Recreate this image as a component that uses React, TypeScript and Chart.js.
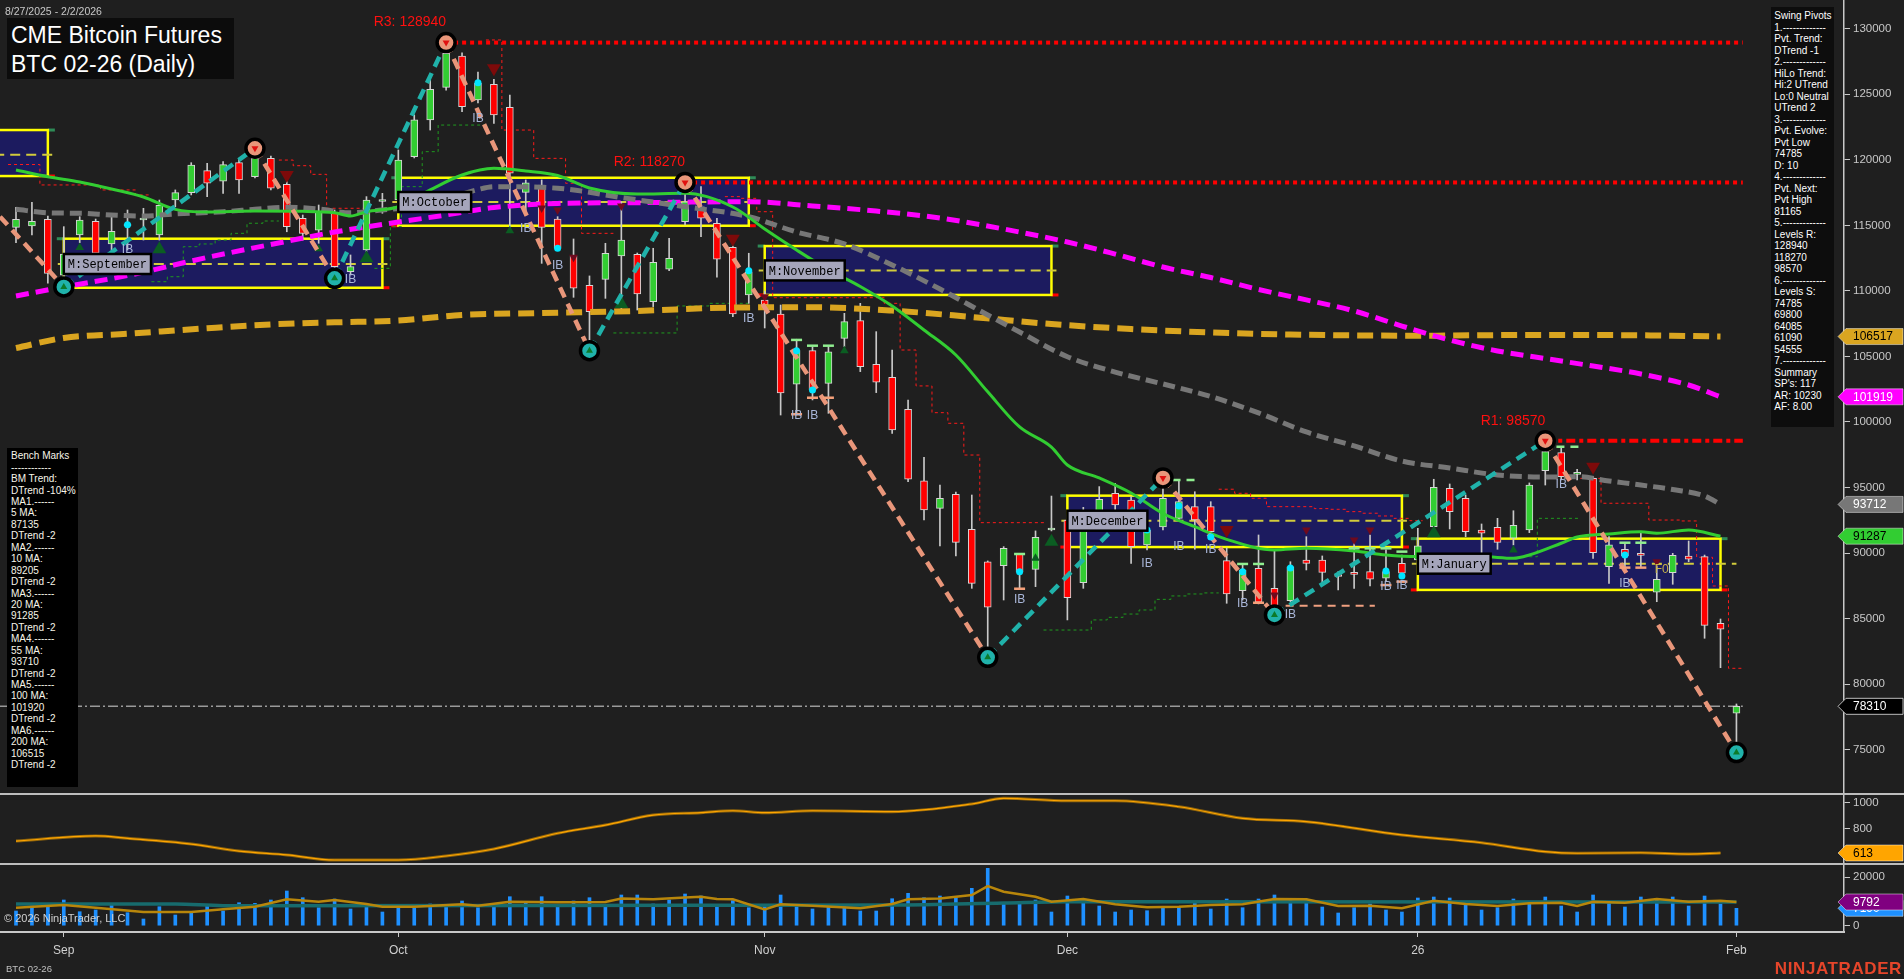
import React, { useEffect, useRef } from 'react';
import { Chart, registerables } from 'chart.js';

Chart.register(...registerables);
Chart.defaults.font.family = 'Arial, "Liberation Sans", sans-serif';

// ---------------- DATA ----------------
const opens = [
  114850, 114950, 115460, 111200, 114260, 115310, 113580, 114950, 115410, 114260,
  116930, 117490, 119170, 118360, 119780, 118710, 120110, 118130, 115540, 114640,
  115920, 111460, 113120, 116820, 116930, 120240, 123040, 125530, 127920, 124560,
  125760, 124000, 117520, 118080, 115480, 112680, 110430, 110880, 112660, 112790,
  109180, 111650, 115280, 116420, 115160, 113330, 109690, 109300, 108240, 102880,
  105440, 102950, 106380, 107730, 104400, 103410, 100970, 95520, 93410, 94490,
  91810, 89340, 89040, 89930, 88760, 91760, 92520, 87740, 93040, 94560,
  94050, 90620, 91990, 92650, 93540, 93540, 89420, 87130, 88840, 87310,
  86370, 89470, 89470, 88290, 88500, 88580, 88080, 89220, 89470, 92010,
  94940, 94180, 91760, 91970, 91130, 91760, 96290, 97660, 96000, 95710,
  88960, 90290, 89890, 87010, 88500, 89780, 89730, 84640, 77780,
];
const highs = [
  116380, 116760, 115710, 114900, 115660, 115480, 115660, 116170, 116300, 116930,
  117700, 119780, 119730, 119860, 120110, 120880, 120290, 118460, 115790, 116550,
  116170, 112740, 117190, 117440, 120750, 123420, 126090, 128940, 128150, 126700,
  126140, 124940, 118460, 118460, 115660, 113960, 111140, 113630, 116800, 112890,
  113250, 114010, 118270, 117950, 115540, 113420, 112870, 109990, 108920, 106310,
  105740, 105800, 108290, 109050, 106890, 105490, 101680, 97310, 95190, 94660,
  94430, 89400, 90490, 89930, 91690, 94350, 92900, 93490, 95070, 95320,
  94300, 92140, 95420, 95580, 94680, 93920, 90390, 89170, 91380, 90240,
  89340, 91250, 89780, 88580, 91000, 91380, 90240, 89850, 91890, 95630,
  95270, 94430, 92220, 92650, 93230, 95350, 98570, 98000, 96390, 95830,
  91250, 90790, 91510, 89220, 89980, 90920, 89850, 84970, 78490,
];
const lows = [
  113680, 114260, 110580, 110300, 113680, 112660, 113120, 113120, 113880, 113880,
  116420, 117320, 117190, 117440, 117440, 118610, 117700, 114510, 113880, 113630,
  110830, 111210, 113000, 115920, 116780, 120140, 122270, 125320, 123670, 124330,
  122780, 114700, 115790, 112100, 113120, 109510, 105800, 109430, 108540, 108540,
  108800, 111540, 115030, 114130, 111040, 108030, 109050, 107170, 100530, 100530,
  101680, 100660, 105740, 103840, 102240, 99130, 95450, 92520, 90540, 89780,
  87310, 82380, 86420, 87240, 87440, 91690, 84900, 87310, 92900, 93290,
  89220, 90240, 91760, 92520, 90290, 91380, 86170, 86420, 86120, 85530,
  86290, 88710, 87640, 87190, 87310, 87490, 87900, 88180, 89090, 91910,
  91840, 91250, 89980, 90290, 90620, 91560, 95190, 95580, 95580, 89600,
  87690, 88960, 88920, 86290, 87620, 89340, 83500, 81260, 74785,
];
const closes = [
  115460, 115310, 111340, 112800, 115410, 112870, 114550, 115100, 115480, 116530,
  117490, 119600, 118210, 119630, 118460, 120110, 117830, 114900, 114390, 116040,
  111850, 111850, 116930, 116900, 119980, 123040, 125380, 128120, 124050, 125860,
  123420, 118970, 118250, 114850, 113250, 110200, 108410, 112870, 113880, 109760,
  112180, 112490, 116800, 115540, 112410, 108240, 111460, 108920, 102220, 105440,
  102440, 105360, 107650, 104220, 103030, 99390, 95630, 93290, 94180, 90820,
  87690, 85870, 90360, 88540, 91200, 91900, 86600, 93040, 94100, 93670,
  90490, 91760, 94180, 93920, 92520, 91630, 86880, 88710, 86250, 85910,
  88960, 89220, 88530, 88210, 88380, 88000, 88580, 88460, 90560, 95020,
  93160, 91630, 91510, 90820, 92120, 95190, 97740, 95830, 96030, 90030,
  90620, 89780, 89820, 88000, 89830, 89530, 84490, 84190, 78310,
];
const volumes = [
  6074, 8140, 7603, 10620, 5785, 6488, 8554, 5372, 2769, 7851,
  4421, 5372, 8140, 6074, 9504, 9256, 10620, 14339, 11570, 7438,
  11033, 6900, 8843, 5661, 7851, 7438, 8967, 8140, 10207, 7438,
  8554, 11983, 9793, 11983, 8140, 10207, 11570, 8554, 12686, 12686,
  8967, 10620, 13099, 12273, 8140, 10331, 7438, 8554, 12686, 8554,
  6901, 8554, 8554, 6074, 6074, 11157, 13388, 11570, 12273, 11570,
  15455, 23719, 9669, 8967, 10620, 5661, 12273, 11157, 8140, 5661,
  6488, 6198, 7727, 7603, 9793, 6901, 11033, 7438, 11033, 12686,
  11033, 11033, 7727, 5248, 7438, 8967, 6488, 5661, 11446, 11860,
  11446, 8554, 6488, 7438, 11033, 9380, 11860, 8140, 5661, 12686,
  9793, 7727, 11860, 11033, 11860, 8140, 12273, 8967, 7190,
];

const monthTickIdx = [3, 24, 47, 66, 88, 108];
const monthTickLabels = ['Sep', 'Oct', 'Nov', 'Dec', '26', 'Feb'];
const priceTicks = [75000, 80000, 85000, 90000, 95000, 100000, 105000, 110000, 115000, 120000, 125000, 130000];
const oscTicks = [800, 1000];
const volTicks = [0, 20000];

const ma20Idx = [0, 2, 4, 6, 8, 10, 12, 15, 18, 20, 21, 22, 24, 26, 28, 30, 32, 34, 36, 39, 42, 45, 47, 49, 51, 53, 55, 57, 59, 61, 63, 65, 66, 68, 70, 72, 74, 76, 79, 81, 84, 86, 88, 92, 94, 95, 97, 98, 100, 102, 103, 105, 107];
const ma20Val = [119220, 118710, 118310, 117770, 117160, 116220, 116020, 116090, 116070, 115960, 115710, 116040, 116420, 117700, 118840, 119350, 119150, 118800, 117850, 117390, 117440, 116400, 114720, 113120, 111620, 110340, 108850, 107020, 105110, 102300, 99620, 98090, 96720, 95730, 94580, 93020, 92010, 91050, 90240, 90370, 90160, 89850, 89730, 89730, 89600, 89850, 90750, 91230, 91460, 91630, 91510, 91760, 91287];
const ma55Idx = [0, 2, 4, 6, 8, 10, 13, 15, 17, 19, 21, 23, 25, 27, 29, 30, 34, 38, 42, 46, 49, 52, 55, 58, 61, 63, 66, 69, 72, 75, 78, 81, 84, 87, 90, 93, 96, 98, 100, 102, 104, 106, 107];
const ma55Val = [116220, 115960, 115920, 115790, 115710, 115870, 116040, 116220, 116380, 116250, 115960, 116170, 116420, 117010, 117730, 117950, 117830, 117120, 116420, 115660, 114490, 113580, 111980, 110140, 108160, 106860, 104980, 103810, 102900, 101940, 100690, 99240, 98170, 97020, 96490, 95960, 95800, 95830, 95500, 95190, 94850, 94350, 93712];
const ma100Idx = [0, 3, 7, 12, 16, 20, 24, 27, 30, 34, 39, 43, 46, 50, 54, 58, 62, 66, 69, 72, 75, 78, 81, 84, 87, 90, 93, 96, 99, 102, 105, 107];
const ma100Val = [109610, 110300, 111170, 112550, 113540, 114490, 115250, 115790, 116360, 116670, 116730, 116780, 116800, 116480, 116090, 115560, 114720, 113730, 112810, 111820, 111020, 110110, 109310, 108470, 107320, 106250, 105420, 104840, 104270, 103660, 102820, 101919];
const ma200Idx = [0, 3, 7, 12, 16, 20, 24, 28, 33, 39, 45, 50, 55, 60, 65, 70, 75, 80, 88, 95, 102, 107];
const ma200Val = [105640, 106410, 106730, 107150, 107440, 107600, 107740, 108160, 108310, 108470, 108730, 108750, 108500, 108010, 107470, 107090, 106830, 106670, 106580, 106640, 106610, 106517];

const pivotIdx = [-1, 3, 15, 20, 27, 36, 42, 61, 72, 79, 96, 108];
const pivotVal = [115660, 110300, 120880, 110960, 128940, 105440, 118270, 82050, 95730, 85280, 98570, 74785];

const resIdx = [27, 42, 96];
const resVal = [128940, 118270, 98570];
const resNames = ['R3', 'R2', 'R1'];

const boxStart = [-3, 3, 24, 47, 66, 88];
const boxEnd = [2, 23, 46, 65, 87, 107];
const boxTop = [122270, 113980, 118630, 113420, 94380, 91100];
const boxBottom = [118760, 110240, 114970, 109690, 90460, 87190];
const boxMid = [120390, 112050, 116780, 111560, 92470, 89190];
const boxLabels = ['', 'M:September', 'M:October', 'M:November', 'M:December', 'M:January'];

const bigUpIdx = [9, 22, 38, 65, 89];
const bigUpVal = [113170, 112490, 109000, 90870, 91510];
const smallUpIdx = [4, 19, 31, 52, 64, 94];
const smallUpVal = [113300, 113220, 114590, 105440, 89600, 90240];
const bigDnIdx = [17, 30, 45, 76, 99];
const bigDnVal = [118840, 126980, 113980, 91760, 96590];
const smallDnIdx = [33, 34, 35, 38, 47, 79, 81, 84, 85, 103];
const smallDnVal = [116320, 116170, 112560, 116480, 109560, 86800, 91760, 91000, 91760, 89340];

const cyanIdx = [7, 29, 34, 46, 49, 50, 63, 71, 73, 75, 77, 80, 86, 87, 101];
const cyanVal = [115050, 125880, 113250, 111540, 105440, 102440, 88580, 91760, 93590, 91230, 88580, 88860, 88630, 88250, 89850];

const ibIdx = [7, 21, 29, 32, 34, 46, 49, 50, 63, 71, 73, 75, 77, 80, 86, 87, 97, 101];
const ibVal = [113170, 110880, 123170, 114770, 111900, 107910, 100460, 100460, 86420, 89170, 90490, 90240, 86170, 85280, 87440, 87490, 95190, 87640];
const foIdx = [103];
const foVal = [88710];

const ibTopIdx = [49, 50, 51, 63, 77, 78, 84, 85, 86, 87, 101, 102];
const ibTopVal = [106260, 105820, 105820, 89930, 89170, 89170, 90360, 90360, 90360, 90110, 90790, 90790];
const ibBotIdx = [49, 50, 51, 63, 78, 86, 87, 101, 102];
const ibBotVal = [100590, 101850, 101850, 87280, 86210, 87560, 87820, 88890, 88890];

const stopRed = [
  [[-0.5, 119640], [1.5, 118080], [5.3, 117700], [7.5, 117320], [8.4, 117320]],
  [[16.5, 119980], [17.4, 119550], [18.5, 118890], [19.5, 116300], [21.8, 116300]],
  [[29.5, 129140], [30.5, 122270], [32.5, 120110], [34.5, 118210], [35.5, 114390], [37.5, 114390]],
  [[44.5, 117190], [45.5, 117060], [46.5, 116040], [47.5, 109480], [54.5, 109050], [55.5, 105490], [56.5, 102750], [57.5, 100710], [58.5, 99900], [59.5, 97480], [60.5, 92320], [64.7, 92320]],
  [[75.5, 94870], [76.5, 94560], [77.5, 94180], [78.5, 93540], [81.5, 93390], [82.5, 93340], [83.5, 93160], [84.5, 93040], [85.5, 92830], [86.5, 92650], [87.5, 92470], [88.3, 92470]],
  [[98.2, 95700], [99.5, 93800], [102.5, 92520], [104.5, 92450], [105.5, 89680], [106.5, 87490], [107.5, 81210], [108.5, 81210]],
];
const stopGreen = [
  [[8.5, 110700], [9.5, 111080], [10.5, 113370], [11.5, 113580], [12.5, 113880], [13.5, 114390], [14.5, 115160], [15.5, 115330], [16.5, 115330]],
  [[22.5, 111720], [23.5, 114900], [24.2, 117950], [25.5, 120620], [26.5, 122650], [29.5, 122650]],
  [[37.5, 106790], [41.5, 108850], [43.5, 109050], [46.05, 109050]],
  [[64.5, 84130], [67.5, 84900], [68.5, 85100], [69.5, 85350], [70.5, 85660], [71.5, 86470], [72.5, 86730], [73.5, 86880], [74.5, 86960], [75.5, 86960]],
  [[95.0, 89720], [95.5, 92650], [98.2, 92650]],
];
const salmonDash = [[79.7, 85990], [85.3, 85990]];
const lightGreenDashes = [
  [[72.6, 95575], [74.3, 95575]],
  [[96.7, 98117], [98.3, 98117]],
];

const oscIdx = [0, 5, 7, 11, 14, 17, 20, 24, 27, 30, 34, 37, 40, 43, 45, 47, 50, 55, 60, 62, 66, 69, 73, 77, 81, 87, 92, 96, 98, 102, 105, 107];
const oscVal = [705, 744, 726, 682, 628, 598, 559, 559, 590, 644, 765, 828, 905, 923, 938, 923, 938, 931, 990, 1034, 1015, 1015, 969, 880, 854, 752, 692, 623, 611, 615, 605, 613];

const vmaIdx = [0, 3, 5, 8, 11, 13, 15, 17, 19, 20, 22, 23, 25, 28, 29, 31, 34, 37, 38, 40, 42, 43, 44, 45, 47, 48, 50, 53, 55, 56, 58, 60, 61, 62, 64, 65, 67, 69, 71, 73, 75, 77, 79, 81, 83, 85, 87, 89, 91, 93, 95, 97, 98, 99, 101, 103, 105, 107, 108];
const vmaVal = [7438, 8554, 7438, 5661, 5661, 6763, 7851, 10896, 9917, 10620, 8967, 7851, 7851, 8843, 8280, 9917, 9669, 9793, 11240, 10896, 11651, 11983, 11033, 10896, 6763, 8843, 8280, 7190, 8967, 10896, 11240, 12686, 16386, 14063, 11983, 9917, 11033, 8843, 7603, 7851, 8554, 8843, 11033, 10896, 8140, 8280, 7190, 10331, 8967, 8140, 9256, 9516, 8140, 9917, 9516, 11033, 9917, 10331, 9792];
const vlongIdx = [0, 10, 13, 42, 55, 62, 66, 108];
const vlongVal = [8967, 8967, 8280, 8400, 8554, 9400, 9917, 9800];

const pivotPanelLines = ['Swing Pivots', '1.-------------', 'Pvt. Trend:', 'DTrend -1', '2.-------------', 'HiLo Trend:', 'Hi:2 UTrend', 'Lo:0 Neutral', 'UTrend 2', '3.-------------', 'Pvt. Evolve:', 'Pvt Low', '74785', 'D: 10', '4.-------------', 'Pvt. Next:', 'Pvt High', '81165', '5.-------------', 'Levels R:', '128940', '118270', '98570', '6.-------------', 'Levels S:', '74785', '69800', '64085', '61090', '54555', '7.-------------', 'Summary', "SP's: 117", 'AR: 10230', 'AF: 8.00'];
const benchLines = ['Bench Marks', '------------', 'BM Trend:', 'DTrend -104%', 'MA1.------', '5 MA:', '87135', 'DTrend -2', 'MA2.------', '10 MA:', '89205', 'DTrend -2', 'MA3.------', '20 MA:', '91285', 'DTrend -2', 'MA4.------', '55 MA:', '93710', 'DTrend -2', 'MA5.------', '100 MA:', '101920', 'DTrend -2', 'MA6.------', '200 MA:', '106515', 'DTrend -2'];

// ---------------- CONSTANTS / HELPERS ----------------
const BG = '#1f1f1f';
const AXIS = '#c8c8c8';
const X_MIN = -1.0044;
const X_MAX = 114.752;
const LAST_X = 108.4;
const PRICE_MIN = 71622;
const PRICE_MAX = 132189;
const TEAL = '#20b2aa';
const SALMON = '#e9967a';

const pts = (idx: number[], val: number[]) => idx.map((x, k) => ({ x, y: val[k] }));
const pairPts = (arr: number[][]) => arr.map(([x, y]) => ({ x, y }));

function drawTag(ctx: any, y: number, fill: string, textColor: string, text: string, stroke?: string) {
  const tip = 1838, left = 1846, right = 1903, h = 16;
  ctx.save();
  ctx.beginPath();
  ctx.moveTo(tip, y);
  ctx.lineTo(left, y - h / 2);
  ctx.lineTo(right, y - h / 2);
  ctx.lineTo(right, y + h / 2);
  ctx.lineTo(left, y + h / 2);
  ctx.closePath();
  ctx.fillStyle = fill;
  ctx.fill();
  ctx.lineWidth = 1;
  ctx.strokeStyle = stroke || 'rgba(255,255,255,0.45)';
  ctx.stroke();
  ctx.fillStyle = textColor;
  ctx.font = '12px Arial, "Liberation Sans", sans-serif';
  ctx.textAlign = 'left';
  ctx.textBaseline = 'middle';
  ctx.fillText(text, 1853, y + 0.5);
  ctx.restore();
}

const yAxis = (min: number, max: number, ticks: number[]) => ({
  type: 'linear',
  position: 'right',
  min,
  max,
  afterBuildTicks: (s: any) => {
    s.ticks = ticks.map((v) => ({ value: v }));
  },
  afterFit: (s: any) => {
    s.width = 60;
    s.paddingTop = 0;
    s.paddingBottom = 0;
  },
  ticks: { color: AXIS, font: { size: 11.5 }, padding: 3, callback: (v: any) => String(v) },
  grid: { drawOnChartArea: false, drawTicks: true, tickLength: 6, color: AXIS, offset: false },
  border: { display: true, color: AXIS, width: 1.5 },
});

const hiddenX = { type: 'linear', min: X_MIN, max: X_MAX, offset: false, display: false, grid: { offset: false, display: false } };

const baseOptions = {
  responsive: false,
  animation: false,
  events: [],
  layout: { padding: 0, autoPadding: false },
  plugins: { legend: { display: false }, tooltip: { enabled: false }, title: { display: false } },
};

const lineDs = (data: any[], color: string, width: number, dash: number[], order: number, extra: any = {}) => ({
  type: 'line',
  data,
  borderColor: color,
  borderWidth: width,
  borderDash: dash,
  pointRadius: 0,
  fill: false,
  order,
  ...extra,
});

const scatterDs = (data: any[], opts: any, order: number) => ({
  type: 'scatter',
  data,
  pointBorderWidth: 0,
  order,
  ...opts,
});

// ---------------- PLUGINS ----------------
const priceOverlay = {
  id: 'priceOverlay',
  beforeDatasetsDraw(chart: any) {
    const { ctx, chartArea: ca } = chart;
    const xs = chart.scales.x;
    const ys = chart.scales.y;
    ctx.save();
    ctx.beginPath();
    ctx.rect(ca.left, ca.top, ca.right - ca.left, ca.bottom - ca.top);
    ctx.clip();
    for (let k = 0; k < boxStart.length; k++) {
      const x0 = xs.getPixelForValue(boxStart[k]);
      const x1 = xs.getPixelForValue(boxEnd[k]);
      const y0 = ys.getPixelForValue(boxTop[k]);
      const y1 = ys.getPixelForValue(boxBottom[k]);
      const ym = ys.getPixelForValue(boxMid[k]);
      ctx.fillStyle = '#1c1b5f';
      ctx.fillRect(x0, y0, x1 - x0, y1 - y0);
      ctx.fillStyle = '#2e8b57';
      ctx.fillRect(x0 - 7, y0 - 1.5, 7, 3);
      ctx.fillRect(x1, y0 - 1.5, 7, 3);
      ctx.fillStyle = '#ff0000';
      ctx.fillRect(x0 - 7, y1 - 1.5, 7, 3);
      ctx.fillRect(x1, y1 - 1.5, 7, 3);
      ctx.strokeStyle = '#ffff00';
      ctx.lineWidth = 2.5;
      ctx.strokeRect(x0, y0, x1 - x0, y1 - y0);
      const xe = k === boxStart.length - 1 ? xs.getPixelForValue(108) : x1 + 5;
      ctx.setLineDash([10, 6]);
      ctx.strokeStyle = '#d2cc3c';
      ctx.lineWidth = 2;
      ctx.beginPath();
      ctx.moveTo(x0 - 6, ym);
      ctx.lineTo(xe, ym);
      ctx.stroke();
      ctx.setLineDash([]);
    }
    ctx.restore();
  },
  afterDatasetsDraw(chart: any) {
    const { ctx, chartArea: ca } = chart;
    const xs = chart.scales.x;
    const ys = chart.scales.y;
    ctx.save();
    ctx.beginPath();
    ctx.rect(ca.left, ca.top, ca.right - ca.left, ca.bottom - ca.top);
    ctx.clip();
    ctx.font = '12px "Liberation Mono", "DejaVu Sans Mono", monospace';
    ctx.textBaseline = 'middle';
    ctx.textAlign = 'left';
    for (let k = 0; k < boxStart.length; k++) {
      if (!boxLabels[k]) continue;
      const x0 = xs.getPixelForValue(boxStart[k]);
      const ym = ys.getPixelForValue(boxMid[k]);
      const w = ctx.measureText(boxLabels[k]).width + 8;
      ctx.fillStyle = '#a5a5bb';
      ctx.fillRect(x0, ym - 10, w, 20);
      ctx.lineWidth = 2.5;
      ctx.strokeStyle = '#000000';
      ctx.strokeRect(x0, ym - 10, w, 20);
      ctx.fillStyle = '#000000';
      ctx.fillText(boxLabels[k], x0 + 4, ym + 1);
    }
    ctx.font = '14px "Liberation Sans Narrow", Arial, sans-serif';
    ctx.fillStyle = '#ff1010';
    ctx.textAlign = 'right';
    for (let k = 0; k < resIdx.length; k++) {
      const xp = xs.getPixelForValue(resIdx[k]);
      const yp = ys.getPixelForValue(resVal[k]);
      ctx.fillText(resNames[k] + ': ' + resVal[k], xp, yp - 20);
    }
    ctx.font = '12px Arial, sans-serif';
    ctx.textAlign = 'center';
    ctx.fillStyle = '#a9b6d8';
    for (let k = 0; k < ibIdx.length; k++) {
      ctx.fillText('IB', xs.getPixelForValue(ibIdx[k]), ys.getPixelForValue(ibVal[k]));
    }
    ctx.fillStyle = '#c9b44a';
    for (let k = 0; k < foIdx.length; k++) {
      ctx.fillText('F0', xs.getPixelForValue(foIdx[k]) + 5, ys.getPixelForValue(foVal[k]));
    }
    ctx.restore();
  },
  afterDraw(chart: any) {
    const { ctx } = chart;
    const ys = chart.scales.y;
    drawTag(ctx, ys.getPixelForValue(ma200Val[ma200Val.length - 1]), '#daa520', '#000000', String(ma200Val[ma200Val.length - 1]));
    drawTag(ctx, ys.getPixelForValue(ma100Val[ma100Val.length - 1]), '#ff00ff', '#ffffff', String(ma100Val[ma100Val.length - 1]));
    drawTag(ctx, ys.getPixelForValue(ma55Val[ma55Val.length - 1]), '#777777', '#ffffff', String(ma55Val[ma55Val.length - 1]));
    drawTag(ctx, ys.getPixelForValue(ma20Val[ma20Val.length - 1]), '#32cd32', '#000000', String(ma20Val[ma20Val.length - 1]));
    const lc = closes[closes.length - 1];
    drawTag(ctx, ys.getPixelForValue(lc), '#000000', '#ffffff', String(lc), '#bbbbbb');
  },
};

const oscOverlay = {
  id: 'oscOverlay',
  afterDraw(chart: any) {
    const ys = chart.scales.y;
    const v = oscVal[oscVal.length - 1];
    drawTag(chart.ctx, ys.getPixelForValue(v), '#ffa500', '#000000', String(v));
  },
};

const volOverlay = {
  id: 'volOverlay',
  afterDraw(chart: any) {
    const ys = chart.scales.y;
    const lv = volumes[volumes.length - 1];
    drawTag(chart.ctx, ys.getPixelForValue(lv), '#1e90ff', '#ffffff', String(lv));
    const mv = vmaVal[vmaVal.length - 1];
    drawTag(chart.ctx, ys.getPixelForValue(mv), '#800080', '#ffffff', String(mv));
  },
};

// ---------------- CONFIGS ----------------
function priceConfig(): any {
  const idxAll = opens.map((_, i) => i);
  const bodyColors = closes.map((c, i) => (c >= opens[i] ? '#32cd32' : '#ff0000'));
  const isHigh = pivotVal.map((v, k) => k > 0 && v > pivotVal[k - 1]);
  const pivotColors = isHigh.map((h) => (h ? SALMON : TEAL));
  const innerColors = isHigh.map((h) => (h ? '#e01010' : '#0c7a2a'));
  const innerRot = isHigh.map((h) => (h ? 180 : 0));
  const lastClose = closes[closes.length - 1];
  const datasets: any[] = [];
  stopRed.forEach((seg) => datasets.push(lineDs(pairPts(seg), '#ff1a1a', 1, [3, 3], 30, { stepped: 'before' })));
  stopGreen.forEach((seg) => datasets.push(lineDs(pairPts(seg), '#1f9a1f', 1, [3, 3], 30, { stepped: 'before' })));
  datasets.push(lineDs([{ x: X_MIN, y: lastClose }, { x: LAST_X, y: lastClose }], '#9a9a9a', 1.5, [10, 3, 2, 3], 29));
  datasets.push({
    type: 'bar',
    data: idxAll.map((i) => ({ x: i, y: [lows[i], highs[i]] })),
    backgroundColor: '#c8c8c8',
    barThickness: 1,
    grouped: false,
    order: 20,
  });
  datasets.push({
    type: 'bar',
    data: idxAll.map((i) => ({ x: i, y: [opens[i], closes[i]] })),
    backgroundColor: bodyColors,
    borderColor: '#d6d6d6',
    borderWidth: 1,
    borderSkipped: false,
    barThickness: 7,
    grouped: false,
    minBarLength: 2,
    order: 19,
  });
  datasets.push(lineDs(pts(ma200Idx, ma200Val), '#daa520', 6, [16, 8], 12, { cubicInterpolationMode: 'monotone' }));
  datasets.push(lineDs(pts(ma100Idx, ma100Val), '#ff00ff', 5, [13, 7], 11, { cubicInterpolationMode: 'monotone' }));
  datasets.push(lineDs(pts(ma55Idx, ma55Val), '#777777', 5, [12, 6], 10, { cubicInterpolationMode: 'monotone' }));
  datasets.push(lineDs(pts(ma20Idx, ma20Val), '#32cd32', 3, [], 9, { cubicInterpolationMode: 'monotone' }));
  resIdx.forEach((ri, k) =>
    datasets.push(lineDs([{ x: ri, y: resVal[k] }, { x: LAST_X, y: resVal[k] }], '#ff0000', 4, k === 2 ? [9, 4, 4, 4] : [4, 4], 8)),
  );
  datasets.push(lineDs(pairPts(salmonDash), '#f0a080', 2, [8, 6], 8));
  lightGreenDashes.forEach((seg) => datasets.push(lineDs(pairPts(seg), '#90ee90', 2.5, [8, 6], 8)));
  datasets.push(
    lineDs(pts(pivotIdx, pivotVal), SALMON, 4.5, [11, 7], 5, {
      segment: { borderColor: (c: any) => (c.p1.parsed.y > c.p0.parsed.y ? TEAL : SALMON) },
    }),
  );
  datasets.push(
    scatterDs(pts(pivotIdx.slice(1), pivotVal.slice(1)), {
      pointRadius: 9,
      pointBackgroundColor: pivotColors.slice(1),
      pointBorderColor: '#000000',
      pointBorderWidth: 3.5,
    }, 4),
  );
  datasets.push(
    scatterDs(pts(pivotIdx.slice(1), pivotVal.slice(1)), {
      pointStyle: 'triangle',
      pointRadius: 4,
      pointRotation: innerRot.slice(1),
      pointBackgroundColor: innerColors.slice(1),
    }, 3),
  );
  datasets.push(scatterDs(pts(bigUpIdx, bigUpVal), { pointStyle: 'triangle', pointRadius: 8, pointBackgroundColor: '#0b5d22' }, 6));
  datasets.push(scatterDs(pts(smallUpIdx, smallUpVal), { pointStyle: 'triangle', pointRadius: 5, pointBackgroundColor: '#0b5d22' }, 6));
  datasets.push(scatterDs(pts(bigDnIdx, bigDnVal), { pointStyle: 'triangle', pointRotation: 180, pointRadius: 8, pointBackgroundColor: '#7d0a0a' }, 6));
  datasets.push(scatterDs(pts(smallDnIdx, smallDnVal), { pointStyle: 'triangle', pointRotation: 180, pointRadius: 5, pointBackgroundColor: '#6e0a1e' }, 6));
  datasets.push(scatterDs(pts(cyanIdx, cyanVal), { pointRadius: 3.5, pointBackgroundColor: '#00e5ff' }, 2));
  datasets.push(scatterDs(pts(ibTopIdx, ibTopVal), { pointStyle: 'line', pointRadius: 5.5, pointBorderWidth: 2.5, pointBorderColor: '#90ee90' }, 2));
  datasets.push(scatterDs(pts(ibBotIdx, ibBotVal), { pointStyle: 'line', pointRadius: 5.5, pointBorderWidth: 2.5, pointBorderColor: '#f4a07a' }, 2));

  return {
    type: 'line',
    data: { datasets },
    options: {
      ...baseOptions,
      scales: { x: hiddenX, y: yAxis(PRICE_MIN, PRICE_MAX, priceTicks) },
    },
    plugins: [priceOverlay],
  };
}

function oscConfig(): any {
  return {
    type: 'line',
    data: {
      datasets: [
        lineDs(pts(oscIdx, oscVal), '#8f640c', 3, [], 2, { cubicInterpolationMode: 'monotone' }),
        lineDs(pts(oscIdx, oscVal), '#ffa500', 1.2, [], 1, { cubicInterpolationMode: 'monotone' }),
      ],
    },
    options: {
      ...baseOptions,
      scales: { x: hiddenX, y: yAxis(528.4, 1066.9, oscTicks) },
    },
    plugins: [oscOverlay],
  };
}

function volConfig(): any {
  const idxAll = volumes.map((_, i) => i);
  return {
    type: 'line',
    data: {
      datasets: [
        {
          type: 'bar',
          data: pts(idxAll, volumes),
          backgroundColor: '#1e90ff',
          barThickness: 3,
          grouped: false,
          order: 5,
        },
        lineDs(pts(vlongIdx, vlongVal), '#176b6d', 3.5, [], 3, { cubicInterpolationMode: 'monotone' }),
        lineDs(pts(vmaIdx, vmaVal), '#b8860b', 2.5, [], 2),
      ],
    },
    options: {
      ...baseOptions,
      scales: {
        x: {
          type: 'linear',
          min: X_MIN,
          max: X_MAX,
          offset: false,
          afterBuildTicks: (s: any) => {
            s.ticks = monthTickIdx.map((v) => ({ value: v }));
          },
          afterFit: (s: any) => {
            s.height = 47;
            s.paddingLeft = 0;
            s.paddingRight = 0;
          },
          ticks: {
            color: '#d0d0d0',
            font: { size: 12 },
            autoSkip: false,
            maxRotation: 0,
            minRotation: 0,
            padding: 6,
            callback: (_v: any, i: number) => monthTickLabels[i],
          },
          grid: { offset: false, drawOnChartArea: false, drawTicks: true, tickLength: 5, color: AXIS },
          border: { display: true, color: AXIS, width: 2 },
        },
        y: yAxis(-2603, 25496, volTicks),
      },
    },
    plugins: [volOverlay],
  };
}

// ---------------- COMPONENT ----------------
export default function App() {
  const priceRef = useRef<HTMLCanvasElement>(null);
  const oscRef = useRef<HTMLCanvasElement>(null);
  const volRef = useRef<HTMLCanvasElement>(null);

  useEffect(() => {
    document.body.style.margin = '0';
    document.body.style.background = BG;
    const charts: any[] = [];
    if (priceRef.current) charts.push(new Chart(priceRef.current, priceConfig()));
    if (oscRef.current) charts.push(new Chart(oscRef.current, oscConfig()));
    if (volRef.current) charts.push(new Chart(volRef.current, volConfig()));
    return () => charts.forEach((c) => c.destroy());
  }, []);

  const panelText: any = {
    position: 'absolute',
    color: '#ffffff',
    fontSize: 10,
    lineHeight: '11.5px',
    fontFamily: 'Arial, "Liberation Sans", sans-serif',
    whiteSpace: 'pre',
    boxSizing: 'border-box',
  };

  return (
    <div
      style={{
        position: 'absolute',
        left: 0,
        top: 0,
        width: 1904,
        height: 979,
        background: BG,
        overflow: 'hidden',
        fontFamily: 'Arial, "Liberation Sans", sans-serif',
      }}
    >
      <canvas ref={priceRef} width={1904} height={794} style={{ position: 'absolute', left: 0, top: 0 }} />
      <canvas ref={oscRef} width={1904} height={70} style={{ position: 'absolute', left: 0, top: 794 }} />
      <canvas ref={volRef} width={1904} height={115} style={{ position: 'absolute', left: 0, top: 864 }} />

      <div style={{ position: 'absolute', left: 0, top: 793, width: 1904, height: 2, background: '#bdbdbd' }} />
      <div style={{ position: 'absolute', left: 0, top: 863, width: 1904, height: 2, background: '#bdbdbd' }} />

      <div style={{ position: 'absolute', left: 5, top: 5, fontSize: 10.5, color: '#c8c8c8', lineHeight: '13px' }}>
        8/27/2025 - 2/2/2026
      </div>
      <div style={{ position: 'absolute', left: 7, top: 18, width: 227, height: 61, background: '#0c0c0c' }} />
      <div style={{ position: 'absolute', left: 11, top: 24, fontSize: 23, lineHeight: '23px', color: '#ffffff', whiteSpace: 'pre' }}>
        CME Bitcoin Futures
      </div>
      <div style={{ position: 'absolute', left: 11, top: 52.5, fontSize: 23, lineHeight: '23px', color: '#ffffff', whiteSpace: 'pre' }}>
        BTC 02-26 (Daily)
      </div>

      <div
        style={{
          ...panelText,
          left: 1771,
          top: 7,
          width: 63,
          height: 420,
          background: '#0d0d0d',
          paddingLeft: 3.3,
          paddingTop: 3,
        }}
      >
        {pivotPanelLines.map((t, i) => (
          <div key={i}>{t}</div>
        ))}
      </div>

      <div
        style={{
          ...panelText,
          left: 7,
          top: 448,
          width: 71,
          height: 339,
          background: '#000000',
          paddingLeft: 4,
          paddingTop: 2.3,
          lineHeight: '11.43px',
          color: '#f7f5e8',
        }}
      >
        {benchLines.map((t, i) => (
          <div key={i}>{t}</div>
        ))}
      </div>

      <div style={{ position: 'absolute', left: 4, top: 911, fontSize: 11, lineHeight: '14px', color: '#d0d0d0', whiteSpace: 'pre' }}>
        © 2026 NinjaTrader, LLC
      </div>
      <div style={{ position: 'absolute', left: 6, top: 963, fontSize: 9.5, lineHeight: '12px', color: '#c0c0c0', whiteSpace: 'pre' }}>
        BTC 02-26
      </div>
      <div
        style={{
          position: 'absolute',
          right: 2,
          top: 959,
          fontSize: 17,
          lineHeight: '19px',
          fontWeight: 'bold',
          color: '#e5452a',
          letterSpacing: 0.6,
          whiteSpace: 'pre',
        }}
      >
        NINJATRADER
      </div>
    </div>
  );
}
